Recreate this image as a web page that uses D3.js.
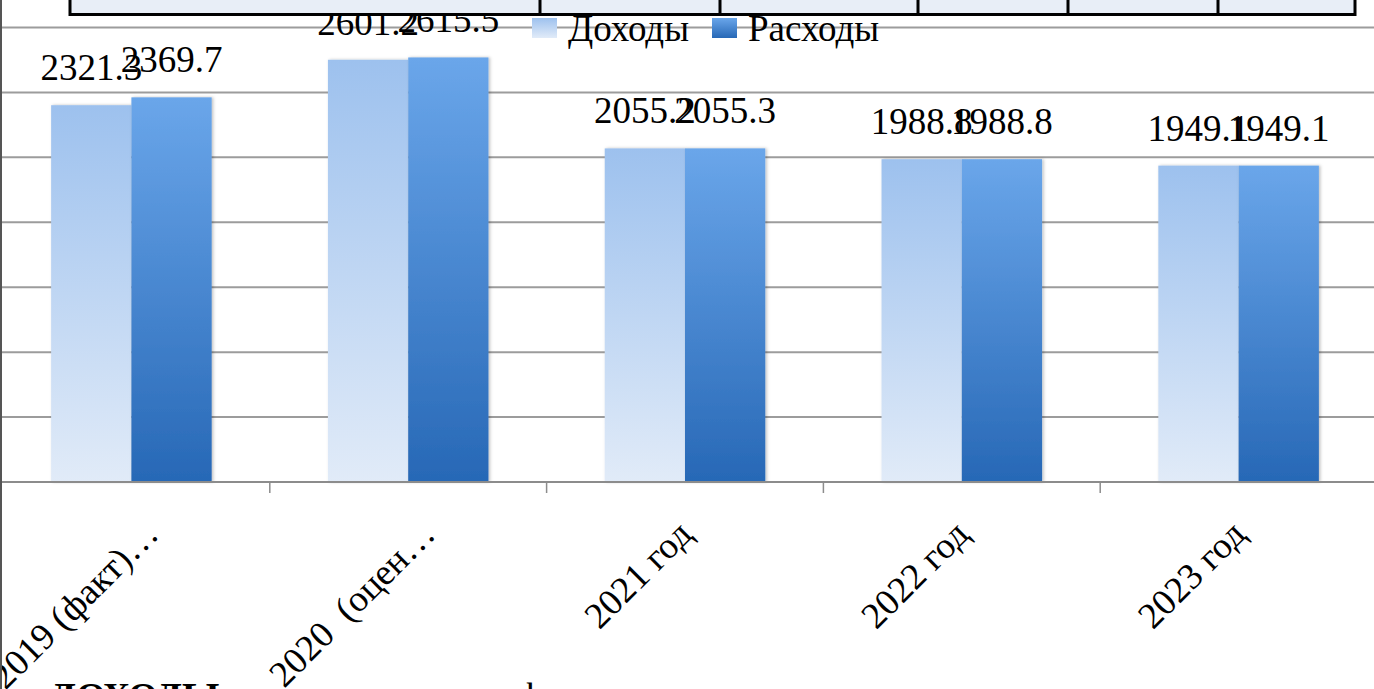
<!DOCTYPE html>
<html>
<head>
<meta charset="utf-8">
<script src="https://cdn.jsdelivr.net/npm/d3@7"></script>
<style>
  html, body { margin: 0; padding: 0; background: #fff; overflow: hidden; }
  text { font-family: "Liberation Serif", "Times New Roman", serif; fill: #000; }
</style>
</head>
<body>
<div id="chart"></div>
<script>
var categories = ["2019 (факт)…", "2020  (оцен…", "2021 год", "2022 год", "2023 год"];
var seriesNames = ["Доходы", "Расходы"];
var incomes = [2321.3, 2601.2, 2055.2, 1988.8, 1949.1];
var expenses = [2369.7, 2615.5, 2055.3, 1988.8, 1949.1];
var yTicks = [0, 400, 800, 1200, 1600, 2000, 2400, 2800];

var width = 1374, height = 689;
var axisY = 482, topY = 27.5;
var fontSize = "37px";

var svg = d3.select("#chart").append("svg")
  .attr("width", width).attr("height", height);

var defs = svg.append("defs");
function addGrad(id, top, bottom) {
  var g = defs.append("linearGradient").attr("id", id)
    .attr("x1", 0).attr("y1", 0).attr("x2", 0).attr("y2", 1);
  g.append("stop").attr("offset", "0%").attr("stop-color", top);
  g.append("stop").attr("offset", "100%").attr("stop-color", bottom);
}
addGrad("g0", "#9dc1ee", "#e1ebf8");
addGrad("g1", "#6aa6ea", "#2768b6");
defs.append("filter").attr("id", "shadow")
  .attr("x", "-10%").attr("y", "-5%").attr("width", "130%").attr("height", "110%")
  .append("feDropShadow").attr("dx", 1.5).attr("dy", 0).attr("stdDeviation", 1.5)
  .attr("flood-color", "#000").attr("flood-opacity", 0.25);

var y = d3.scaleLinear().domain([0, 2800]).range([axisY, topY]);
var x = d3.scaleBand().domain(categories).range([-7, 1377])
  .paddingInner(0.42).paddingOuter(0.21);
var xs = d3.scaleBand().domain(seriesNames).range([0, x.bandwidth()]);

// gridlines
svg.append("g").selectAll("line").data(yTicks.slice(1)).enter().append("line")
  .attr("x1", 0).attr("x2", width)
  .attr("y1", function(d){ return y(d); }).attr("y2", function(d){ return y(d); })
  .attr("stroke", "#9c9c9c").attr("stroke-width", 2);

// bars
var rows = categories.map(function(c, i){ return {cat: c, vals: [incomes[i], expenses[i]]}; });
var groups = svg.append("g").selectAll("g").data(rows).enter().append("g")
  .attr("transform", function(d){ return "translate(" + x(d.cat) + ",0)"; });

groups.selectAll("rect").data(function(d){ return d.vals; }).enter().append("rect")
  .attr("x", function(d, i){ return xs(seriesNames[i]); })
  .attr("y", function(d){ return y(d); })
  .attr("width", xs.bandwidth())
  .attr("height", function(d){ return axisY - y(d); })
  .attr("fill", function(d, i){ return "url(#g" + i + ")"; })
  .attr("filter", "url(#shadow)");

// axis line and ticks
svg.append("line").attr("x1", 0).attr("x2", width).attr("y1", axisY).attr("y2", axisY)
  .attr("stroke", "#8c8c8c").attr("stroke-width", 2);
svg.append("g").selectAll("line").data(categories.slice(1)).enter().append("line")
  .attr("x1", function(d){ return x(d) - x.step() * x.paddingInner() / 2; })
  .attr("x2", function(d){ return x(d) - x.step() * x.paddingInner() / 2; })
  .attr("y1", axisY).attr("y2", axisY + 11)
  .attr("stroke", "#8c8c8c").attr("stroke-width", 1.5);

// value labels
groups.selectAll("text.val").data(function(d){ return d.vals; }).enter().append("text")
  .attr("class", "val")
  .attr("x", function(d, i){ return xs(seriesNames[i]) + xs.bandwidth() / 2; })
  .attr("y", function(d){ return y(d) - 25; })
  .attr("text-anchor", "middle")
  .style("font-size", fontSize)
  .text(function(d){ return d3.format(".1f")(d); });

// category labels (truncated ones sit a little further right)
svg.append("g").selectAll("text").data(categories).enter().append("text")
  .attr("transform", function(d){
    var shift = d.slice(-1) === "…" ? 20 : 0;
    return "translate(" + (x(d) + x.bandwidth() / 2 + 9 + shift) + "," + 536 + ") rotate(-45)";
  })
  .attr("text-anchor", "end")
  .style("font-size", fontSize)
  .style("white-space", "pre")
  .text(function(d){ return d; });

// legend
var legendX = [532, 712];
var leg = svg.append("g").selectAll("g").data(seriesNames).enter().append("g")
  .attr("transform", function(d, i){ return "translate(" + legendX[i] + ",18)"; });
leg.append("rect").attr("width", 25).attr("height", 20)
  .attr("fill", function(d, i){ return "url(#g" + i + ")"; });
leg.append("text").attr("x", 36).attr("y", 23)
  .style("font-size", fontSize)
  .text(function(d){ return d; });

// table strip above the chart
var tableCols = [70, 540, 720, 918, 1068, 1218, 1355];
svg.append("rect").attr("x", 70).attr("y", -10).attr("width", 1285).attr("height", 24.5)
  .attr("fill", "#e8eef7").attr("stroke", "#000").attr("stroke-width", 3);
svg.append("g").selectAll("line").data(tableCols.slice(1, -1)).enter().append("line")
  .attr("x1", function(d){ return d; }).attr("x2", function(d){ return d; })
  .attr("y1", -10).attr("y2", 14.5)
  .attr("stroke", "#000").attr("stroke-width", 3);

// left border
svg.append("line").attr("x1", 1).attr("x2", 1).attr("y1", 0).attr("y2", height)
  .attr("stroke", "#555").attr("stroke-width", 2);

// text below the chart, cut by the frame
svg.append("text").attr("x", 50).attr("y", 709).style("font-size", "38px")
  .style("font-weight", "bold").text("ДОХОДЫ");
svg.append("text").attr("x", 518).attr("y", 709).style("font-size", "38px").text("ф");
</script>
</body>
</html>
